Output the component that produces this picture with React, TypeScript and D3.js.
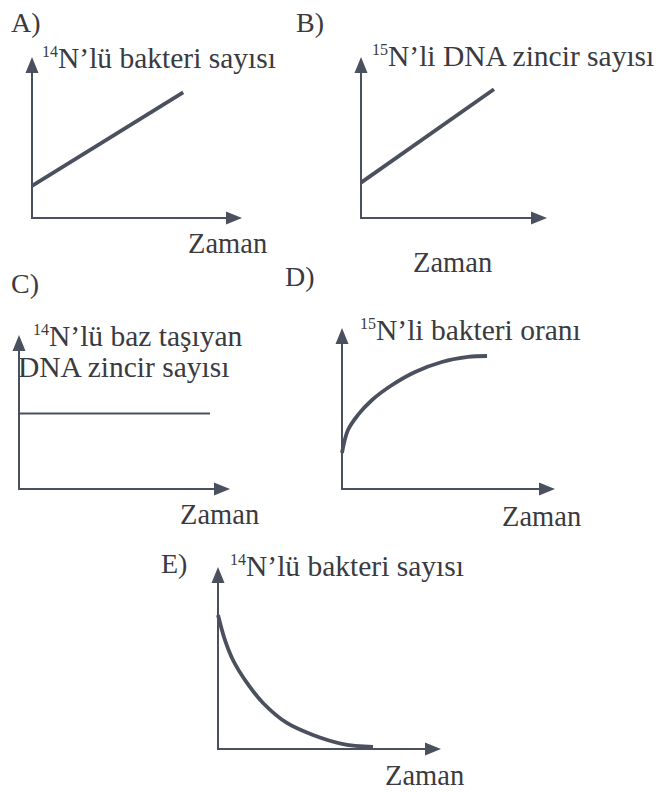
import React from "react";
import * as d3 from "d3";

// ---- Data (abstract units: time 0..10, value 0..10) ----
const letters = ["A)", "B)", "C)", "D)", "E)"];
const xTitle = "Zaman";

const aTime = [0, 7.2];
const aValue = [2.0, 7.8];

const bTime = [0, 7.15];
const bValue = [2.2, 8.0];

const cTime = [0, 9.05];
const cValue = [4.9, 4.9];

const dTime = [0, 0.28, 0.75, 1.41, 2.35, 3.43, 4.69, 5.92, 6.81];
const dValue = [2.24, 3.66, 4.6, 5.53, 6.46, 7.27, 7.89, 8.2, 8.26];

const eTime = [0, 0.31, 0.67, 1.3, 2.02, 3.09, 4.26, 5.61, 6.95];
const eValue = [7.36, 5.99, 4.89, 3.63, 2.53, 1.43, 0.77, 0.27, 0.11];

const aTitle = [{ sup: "14", text: "N\u2019lü bakteri sayısı" }];
const bTitle = [{ sup: "15", text: "N\u2019li DNA zincir sayısı" }];
const cTitle = [{ sup: "14", text: "N\u2019lü baz taşıyan" }, { sup: "", text: "DNA zincir sayısı" }];
const dTitle = [{ sup: "15", text: "N\u2019li bakteri oranı" }];
const eTitle = [{ sup: "14", text: "N\u2019lü bakteri sayısı" }];

// ---- Styles ----
const AXIS = "#4b505e";
const TEXT = "#3a3a3f";
const FONT = '"Liberation Serif", Tinos, "Noto Serif", "Nimbus Roman", "Nimbus Roman No9 L", FreeSerif, "DejaVu Serif", "Times New Roman", Times, serif';

type Layout = {
  ox: number; oy: number; xTip: number; yTip: number;
  letterX: number; letterY: number;
  titleX: number; titleY: number; titleLineGap: number;
  zamanX: number; zamanY: number;
  lineWidth: number; curve: any;
};

function Panel({ layout, time, value, title, letter }: { layout: Layout; time: number[]; value: number[]; title: { sup: string; text: string }[]; letter: string }) {
  const L = layout;
  const x = d3.scaleLinear().domain([0, 10]).range([L.ox, L.xTip]);
  const y = d3.scaleLinear().domain([0, 10]).range([L.oy, L.yTip]);
  const pts = time.map((t, i) => [t, value[i]] as [number, number]);
  const line = d3.line<[number, number]>().x(d => x(d[0])).y(d => y(d[1])).curve(L.curve);
  const ah = 16, aw = 6.5;
  const x0 = x(0), y0 = y(0), xt = x(10), yt = y(10);
  const ts = { fontFamily: FONT, fill: TEXT } as React.CSSProperties;
  return (
    <g>
      <text x={L.letterX} y={L.letterY} style={{ ...ts, fontSize: 28 }}>{letter}</text>
      {title.map((t, i) => (
        <text key={i} x={L.titleX - (t.sup ? 0 : 15)} y={L.titleY + i * L.titleLineGap} style={{ ...ts, fontSize: 29.5 }}>
          {t.sup ? <tspan style={{ fontSize: 16 }} dy={-11}>{t.sup}</tspan> : null}
          <tspan dy={t.sup ? 11 : 0}>{t.text}</tspan>
        </text>
      ))}
      <line x1={x0} y1={y0} x2={x0} y2={yt + ah - 1} stroke={AXIS} strokeWidth={2} />
      <line x1={x0 - 1} y1={y0} x2={xt - ah + 1} y2={y0} stroke={AXIS} strokeWidth={2} />
      <path d={`M${x0},${yt} L${x0 - aw},${yt + ah} L${x0 + aw},${yt + ah} Z`} fill={AXIS} />
      <path d={`M${xt},${y0} L${xt - ah},${y0 - aw} L${xt - ah},${y0 + aw} Z`} fill={AXIS} />
      <path d={line(pts) || ""} fill="none" stroke={AXIS} strokeWidth={L.lineWidth} strokeLinecap="butt" />
      <text x={L.zamanX} y={L.zamanY} style={{ ...ts, fontSize: 28.5 }}>{xTitle}</text>
    </g>
  );
}

const smooth = d3.curveCatmullRom.alpha(0.5);
const layoutA: Layout = { ox: 32, oy: 218, xTip: 242, yTip: 57, letterX: 11, letterY: 32, titleX: 42, titleY: 68, titleLineGap: 0, zamanX: 188, zamanY: 253, lineWidth: 3.8, curve: d3.curveLinear };
const layoutB: Layout = { ox: 361, oy: 218, xTip: 547, yTip: 57, letterX: 296, letterY: 32, titleX: 372, titleY: 66, titleLineGap: 0, zamanX: 413, zamanY: 272, lineWidth: 3.8, curve: d3.curveLinear };
const layoutC: Layout = { ox: 19, oy: 489, xTip: 230, yTip: 335, letterX: 11, letterY: 293, titleX: 33, titleY: 346, titleLineGap: 31, zamanX: 180, zamanY: 524, lineWidth: 2, curve: d3.curveLinear };
const layoutD: Layout = { ox: 342, oy: 489, xTip: 555, yTip: 328, letterX: 285, letterY: 286, titleX: 360, titleY: 340, titleLineGap: 0, zamanX: 502, zamanY: 526, lineWidth: 3.8, curve: smooth };
const layoutE: Layout = { ox: 218, oy: 749, xTip: 441, yTip: 567, letterX: 161, letterY: 573, titleX: 230, titleY: 576, titleLineGap: 0, zamanX: 385, zamanY: 785, lineWidth: 3.8, curve: smooth };

export default function App() {
  return (
    <svg width={672} height={792} style={{ position: "absolute", left: 0, top: 0, background: "#fff" }}>
      <rect width={672} height={792} fill="#fff" />
      <Panel layout={layoutA} time={aTime} value={aValue} title={aTitle} letter={letters[0]} />
      <Panel layout={layoutB} time={bTime} value={bValue} title={bTitle} letter={letters[1]} />
      <Panel layout={layoutC} time={cTime} value={cValue} title={cTitle} letter={letters[2]} />
      <Panel layout={layoutD} time={dTime} value={dValue} title={dTitle} letter={letters[3]} />
      <Panel layout={layoutE} time={eTime} value={eValue} title={eTitle} letter={letters[4]} />
    </svg>
  );
}
